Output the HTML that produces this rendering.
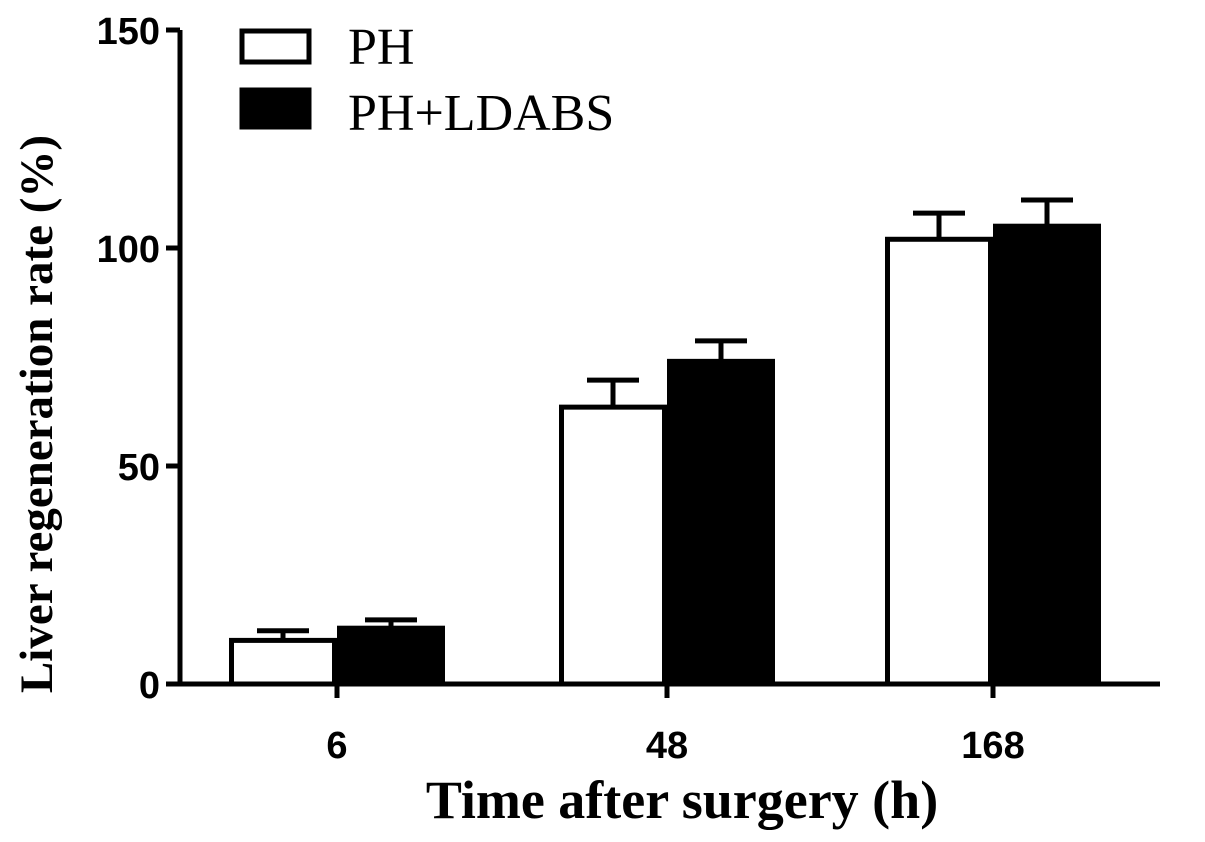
<!DOCTYPE html>
<html><head><meta charset="utf-8"><style>
html,body{margin:0;padding:0;background:#fff;}
svg{display:block;}
</style></head><body>
<svg id="chart" width="1205" height="842" xmlns="http://www.w3.org/2000/svg">
<g id="plot"></g>
</svg>
<script>
const categories = ["6", "48", "168"];
const phValues = [10, 63.5, 102];
const phErrors = [2.2, 6.2, 6];
const ldabsValues = [12.8, 74, 105];
const ldabsErrors = [1.9, 4.7, 6];
const yTicks = [0, 50, 100, 150];
const seriesNames = ["PH", "PH+LDABS"];

const NS = "http://www.w3.org/2000/svg";
const g = document.getElementById("plot");
const x0 = 180, x1 = 1160, yBase = 684, yTop = 30, yMax = 150;
function yScale(v){ return yBase - v / yMax * (yBase - yTop); }
const groupCenters = [337, 667, 993];
const barW = 108;
function xBar(i, s){ return groupCenters[i] + (s === 0 ? -barW : 0); }
function el(tag, attrs, parent){
  const e = document.createElementNS(NS, tag);
  for (const k in attrs) e.setAttribute(k, attrs[k]);
  (parent || g).appendChild(e);
  return e;
}

const series = [[phValues, phErrors, "#fff"], [ldabsValues, ldabsErrors, "#000"]];
series.forEach(([vals, errs, fill], s) => {
  vals.forEach((v, i) => {
    const xb = xBar(i, s), cx = xb + barW / 2;
    const top = yScale(v + errs[i]);
    const eb = el("path", {d: `M${cx},${yScale(v)} V${top} M${cx-26},${top} H${cx+26}`, stroke: "#000", "stroke-width": 5, fill: "none"});
    
    
    const r = el("rect", {x: xb + 2.5, y: yScale(v), width: barW - 5, height: yBase - yScale(v), fill: fill, stroke: "#000", "stroke-width": 5});
    
    
  });
});

const ya = el("path", {d: `M${x0},${yTop} V${yBase}`, stroke: "#000", "stroke-width": 5, fill: "none"});


const xa = el("path", {d: `M${x0-2.5},${yBase} H${x1}`, stroke: "#000", "stroke-width": 5, fill: "none"});



yTicks.forEach(t => {
  const y = yScale(t);
  const tk = el("line", {x1: x0 - 14, x2: x0, y1: y, y2: y, stroke: "#000", "stroke-width": 5});
  
  
  const tl = el("text", {x: x0 - 20, y: y + 14, "text-anchor": "end", "font-family": "Liberation Sans, sans-serif", "font-weight": "bold", "font-size": 38});
  tl.textContent = t;
  
  
});
categories.forEach((c, i) => {
  const x = groupCenters[i];
  const tk = el("line", {x1: x, x2: x, y1: yBase, y2: yBase + 14, stroke: "#000", "stroke-width": 5});
  
  
  const tl = el("text", {x: x, y: yBase + 74, "text-anchor": "middle", "font-family": "Liberation Sans, sans-serif", "font-weight": "bold", "font-size": 38});
  tl.textContent = c;
  
  
});

const yt = el("text", {x: 0, y: 0, transform: "translate(52,414) rotate(-90)", "text-anchor": "middle", "font-family": "Liberation Serif, serif", "font-weight": "bold", "font-size": 47});
yt.textContent = "Liver regeneration rate (%)";


const xt = el("text", {x: 682, y: 818, "text-anchor": "middle", "font-family": "Liberation Serif, serif", "font-weight": "bold", "font-size": 54});
xt.textContent = "Time after surgery (h)";



seriesNames.forEach((n, s) => {
  const y = s === 0 ? 31 : 90;
  const r = el("rect", {x: 242, y: y, width: 67, height: s === 0 ? 31 : 37, fill: s ? "#000" : "#fff", stroke: "#000", "stroke-width": 5});
  
  
  const t = el("text", {x: 348, y: s === 0 ? 64 : 130, "font-family": "Liberation Serif, serif", "font-size": 52});
  t.textContent = n;
  
  
});
</script>
</body></html>
